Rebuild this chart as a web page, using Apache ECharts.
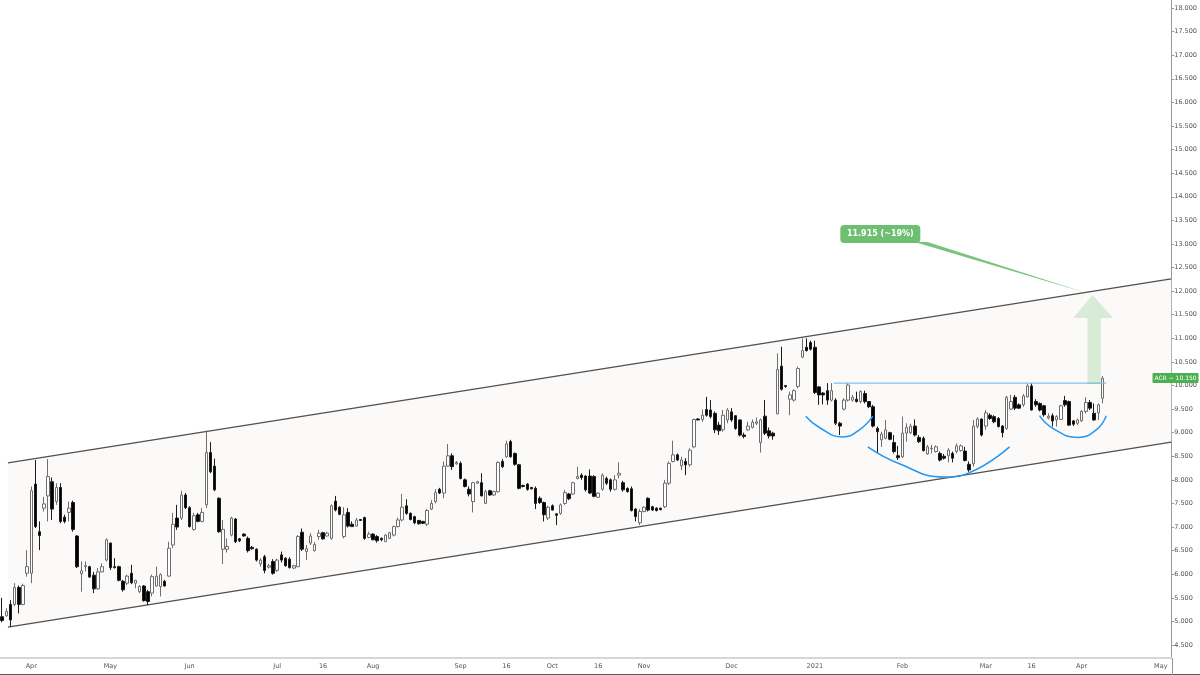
<!DOCTYPE html>
<html>
<head>
<meta charset="utf-8">
<title>ACR</title>
<script src="https://cdn.jsdelivr.net/npm/echarts@6/dist/echarts.min.js"></script>
<style>
  html, body { margin: 0; padding: 0; background: #fff; }
  #chart { width: 1200px; height: 675px; }
</style>
</head>
<body>
<div id="chart"></div>
<script>
// daily candles (one value per bar)
var opens = [
  5.10,5.12,5.36,5.36,5.72,5.36,6.02,6.02,7.91,6.90, 7.40,7.66,7.96,7.54,7.84,7.21,7.31,7.52,6.81,6.01,
  6.16,6.16,5.98,5.69,6.05,6.30,6.66,6.16,6.16,5.85, 5.81,6.02,5.81,5.63,5.75,5.63,5.60,5.75,5.74,5.85,
  5.96,6.62,7.19,7.19,7.68,7.41,6.95,7.26,7.12,7.47, 8.58,8.29,7.61,6.53,6.53,6.83,7.17,6.75,6.85,6.76,
  6.57,6.53,6.22,6.37,6.15,6.27,6.08,6.41,6.34,6.32, 6.13,6.16,6.89,6.48,6.66,6.50,6.80,6.88,6.81,6.76,
  7.55,7.42,6.80,7.31,7.06,7.02,7.16,7.20,6.78,6.85, 6.80,6.76,6.69,6.76,6.83,7.01,7.15,7.45,7.29,7.22,
  7.14,7.12,7.06,7.38,7.54,7.80,7.72,8.29,8.51,8.34, 8.35,8.00,7.80,7.54,7.93,7.94,7.50,7.77,7.68,7.75,
  8.39,8.49,8.81,8.56,8.32,7.88,7.91,7.84,7.82,7.61, 7.52,7.19,7.45,7.28,7.29,7.50,7.70,7.70,8.03,8.10,
  8.08,8.08,8.07,7.63,7.80,8.03,8.00,7.80,8.10,7.94, 7.82,7.81,7.38,7.09,7.33,7.61,7.43,7.40,7.40,7.43,
  7.93,8.39,8.53,8.30,8.39,8.32,8.70,9.29,9.28,9.49, 9.48,9.41,9.16,9.06,9.27,9.44,9.36,9.27,8.95,9.06,
  9.11,9.20,8.79,9.35,9.04,8.99,9.40,10.41,10.00,9.71, 9.69,9.98,10.60,10.81,10.91,10.81,9.97,9.84,9.89,9.69,
  9.69,9.20,9.50,9.69,9.69,9.71,9.66,9.83,9.66,9.55, 9.09,8.85,8.88,9.00,8.79,8.51,8.49,8.99,9.00,9.14,
  8.90,8.88,8.55,8.66,8.60,8.56,8.50,8.51,8.56,8.60, 8.62,8.61,8.33,8.34,9.13,9.29,9.14,9.37,9.34,9.30,
  9.14,9.09,9.50,9.75,9.59,9.59,9.76,9.99,9.66,9.62, 9.57,9.31,9.36,9.27,9.28,9.68,9.66,9.25,9.20,9.25,
  9.45,9.64,9.41,9.42,9.73
];
var highs = [
  5.50,5.28,5.45,5.81,5.76,5.80,6.51,7.86,8.42,7.12, 7.64,8.44,8.05,7.93,7.93,7.26,7.54,7.56,6.83,6.27,
  6.27,6.18,6.05,6.13,6.23,6.76,6.67,6.34,6.18,5.88, 5.99,6.20,5.88,5.77,5.77,5.67,5.99,6.16,6.02,5.88,
  6.69,7.30,7.47,7.77,7.72,7.44,7.30,7.30,7.40,9.04, 8.80,8.45,7.63,7.15,6.76,7.22,7.19,6.77,6.87,6.80,
  6.60,6.55,6.34,6.41,6.22,6.32,6.33,6.48,6.36,6.36, 6.20,6.83,6.97,6.62,6.87,6.68,6.94,6.90,6.90,7.48,
  7.66,7.44,7.42,7.40,7.12,7.19,7.17,7.22,6.90,6.87, 6.83,6.78,6.85,6.90,7.03,7.20,7.70,7.59,7.31,7.24,
  7.15,7.13,7.38,7.57,7.80,7.83,8.39,8.76,8.56,8.40, 8.39,8.03,7.86,7.96,7.98,8.14,7.79,7.79,7.77,8.39,
  8.44,8.83,8.85,8.58,8.34,7.90,7.93,7.85,7.86,7.65, 7.54,7.45,7.48,7.29,7.50,7.79,7.72,7.96,8.28,8.14,
  8.10,8.22,8.10,7.73,8.14,8.07,8.03,8.10,8.37,7.98, 7.84,7.86,7.40,7.38,7.44,7.63,7.45,7.42,7.41,8.00,
  8.39,8.83,8.56,8.49,8.46,8.67,9.30,9.31,9.49,9.76, 9.69,9.45,9.23,9.48,9.52,9.52,9.37,9.28,9.00,9.23,
  9.28,9.32,9.30,9.69,9.11,9.02,10.68,10.82,10.01,9.87, 9.92,10.40,11.00,11.00,10.95,10.95,9.99,9.86,10.05,10.05,
  9.73,9.23,9.73,10.05,9.80,9.87,9.90,9.89,9.67,9.59, 9.13,9.02,9.27,9.02,8.95,8.72,9.34,9.20,9.19,9.28,
  8.95,8.92,8.74,8.74,8.73,8.60,8.55,8.67,8.60,8.77, 8.75,8.70,8.39,9.27,9.33,9.30,9.48,9.41,9.37,9.33,
  9.16,9.78,9.80,9.80,9.62,9.82,10.03,10.05,9.71,9.64, 9.59,9.41,9.41,9.37,9.59,9.78,9.68,9.27,9.30,9.48,
  9.75,9.69,9.62,9.62,10.20
];
var lows = [
  4.98,5.10,4.89,5.32,5.17,5.34,5.95,5.81,6.98,6.51, 7.33,7.12,7.15,7.47,7.08,7.08,7.12,6.90,6.13,5.63,
  6.06,5.92,5.60,5.67,6.04,6.27,6.09,6.12,5.85,5.63, 5.77,5.79,5.70,5.60,5.42,5.35,5.53,5.74,5.53,5.74,
  5.95,6.55,6.94,7.15,7.38,6.99,6.92,7.10,7.10,7.40, 8.14,7.76,6.88,6.22,6.46,6.80,6.66,6.68,6.80,6.46,
  6.52,6.27,6.16,6.02,6.12,5.99,6.05,6.25,6.16,6.12, 6.11,6.15,6.49,6.30,6.62,6.48,6.73,6.73,6.80,6.73,
  7.33,7.25,6.76,6.99,7.00,7.01,7.13,6.73,6.76,6.72, 6.67,6.70,6.68,6.75,6.80,6.99,7.12,7.26,7.14,7.06,
  7.05,7.06,7.02,7.36,7.50,7.70,7.61,8.28,8.21,8.32, 8.01,7.84,7.65,7.31,7.91,7.65,7.49,7.66,7.66,7.73,
  8.25,8.47,8.47,8.30,7.80,7.84,7.77,7.80,7.38,7.49, 7.12,7.15,7.35,7.04,7.26,7.47,7.57,7.68,8.01,8.00,
  7.75,7.70,7.63,7.62,7.77,7.89,7.75,7.77,8.03,7.75, 7.73,7.33,7.12,7.04,7.31,7.33,7.34,7.33,7.35,7.40,
  7.89,8.37,8.40,8.21,8.10,8.28,8.67,9.26,9.23,9.34, 9.30,8.99,8.95,9.02,9.20,9.23,9.06,8.92,8.88,9.04,
  9.09,9.16,8.58,8.95,8.88,8.85,9.39,9.89,9.95,9.37, 9.66,9.94,10.58,10.72,10.74,9.82,9.59,9.60,9.59,9.66,
  9.16,8.95,9.47,9.66,9.66,9.64,9.62,9.62,9.52,9.11, 8.56,8.70,8.86,8.84,8.56,8.42,8.46,8.81,8.97,8.92,
  8.78,8.60,8.53,8.56,8.58,8.39,8.43,8.37,8.37,8.56, 8.60,8.39,8.17,8.28,9.09,8.92,9.06,9.27,9.20,9.11,
  8.90,9.06,9.48,9.48,9.50,9.55,9.75,9.47,9.55,9.45, 9.34,9.28,9.13,9.13,9.27,9.55,9.14,9.14,9.16,9.23,
  9.41,9.48,9.25,9.27,9.62
];
var closes = [
  5.02,5.21,5.03,5.72,5.36,5.76,6.16,7.77,7.01,6.82, 7.49,8.07,7.38,7.84,7.12,7.12,7.40,6.95,6.16,6.07,
  6.18,5.94,5.69,6.05,6.16,6.73,6.14,6.14,5.87,5.67, 5.96,5.82,5.87,5.74,5.44,5.42,5.95,5.96,5.99,5.75,
  6.55,7.06,7.00,7.68,7.41,7.01,7.24,7.12,7.31,8.58, 8.17,7.79,6.90,6.95,6.59,7.19,6.69,6.71,6.81,6.50,
  6.54,6.30,6.30,6.08,6.18,6.02,6.30,6.30,6.18,6.14, 6.18,6.80,6.53,6.54,6.81,6.63,6.87,6.75,6.87,7.45,
  7.36,7.27,7.26,7.02,7.01,7.15,7.14,6.76,6.85,6.73, 6.71,6.73,6.83,6.88,7.01,7.15,7.42,7.29,7.16,7.09,
  7.07,7.08,7.35,7.50,7.73,7.72,8.29,8.51,8.28,8.37, 8.03,7.86,7.70,7.94,7.96,7.66,7.75,7.68,7.75,8.37,
  8.28,8.76,8.49,8.33,7.82,7.86,7.80,7.81,7.50,7.52, 7.26,7.42,7.36,7.25,7.47,7.73,7.60,7.94,8.07,8.05,
  7.79,7.72,7.65,7.72,8.10,7.93,7.80,8.00,8.14,7.79, 7.75,7.35,7.22,7.33,7.42,7.36,7.36,7.35,7.37,7.93,
  8.35,8.53,8.42,8.42,8.32,8.63,9.28,9.27,9.37,9.37, 9.34,9.06,9.04,9.37,9.48,9.27,9.09,8.95,8.92,9.14,
  9.22,9.23,9.27,8.99,8.93,8.93,10.34,9.92,9.98,9.80, 9.89,10.36,10.74,10.74,10.77,9.85,9.80,9.80,9.69,9.89,
  9.20,9.14,9.69,10.01,9.75,9.66,9.87,9.66,9.55,9.14, 9.02,8.97,9.06,8.86,8.60,8.47,8.99,9.11,9.14,8.95,
  8.81,8.62,8.70,8.67,8.70,8.42,8.46,8.63,8.46,8.72, 8.72,8.41,8.21,9.14,9.29,8.95,9.42,9.30,9.23,9.13,
  9.00,9.75,9.66,9.52,9.52,9.78,9.99,9.48,9.59,9.48, 9.38,9.35,9.25,9.34,9.57,9.59,9.16,9.18,9.27,9.45,
  9.64,9.52,9.27,9.59,10.15
];

// empty bars to the right of the last candle
var futureBars = 16;

// bar index -> date label on the time axis
var tickLabels = {
  7: 'Apr', 26: 'May', 45: 'Jun', 66: 'Jul', 77: '16', 89: 'Aug', 110: 'Sep', 121: '16',
  132: 'Oct', 143: '16', 154: 'Nov', 175: 'Dec', 195: '2021', 216: 'Feb', 236: 'Mar',
  247: '16', 259: 'Apr', 278: 'May'
};
var yTicks = [4.5, 5, 5.5, 6, 6.5, 7, 7.5, 8, 8.5, 9, 9.5, 10, 10.5, 11, 11.5, 12,
  12.5, 13, 13.5, 14, 14.5, 15, 15.5, 16, 16.5, 17, 17.5, 18];

// drawings, as [bar index, price]
var channelTop = [[1.4, 8.36], [280.5, 12.26]];
var channelBottom = [[1.4, 4.88], [280.5, 8.80]];
var neckline = [[199.5, 10.05], [264.9, 10.05]];
var cupLeft = [[192.8, 9.35], [196.1, 9.11], [201.7, 8.91], [205.7, 9.06], [208.9, 9.35]];
var cupHead = [[207.7, 8.70], [215.3, 8.34], [226.1, 8.06], [232.5, 8.17], [241.7, 8.70]];
var cupRight = [[248.9, 9.36], [252.1, 9.09], [258.1, 8.90], [262.5, 9.06], [264.9, 9.36]];
var targetArrow = [[260.4, 10.03], [260.4, 11.43], [257.0, 11.43], [261.6, 11.92],
  [266.6, 11.43], [263.6, 11.43], [263.6, 10.03]];
var calloutPointer = [[218.9, 13.04], [222.0, 13.04], [259.8, 11.97]];
var calloutAt = [210.7, 13.21];
var calloutText = '11.915 (~19%)';
var tickerName = 'ACR';

var FONT = 'DejaVu Sans';
var nBars = opens.length + futureBars;

var categories = [];
for (var i = 0; i < nBars; i++) categories.push(String(i));

var candles = [];
for (var j = 0; j < opens.length; j++) {
  candles.push([opens[j], closes[j], lows[j], highs[j]]);
}

var isTick = function (index) {
  return tickLabels.hasOwnProperty(index);
};

// custom polygon drawn in data coordinates
var polygonSeries = function (points, fill, z) {
  return {
    type: 'custom',
    xAxisIndex: 1,
    yAxisIndex: 0,
    z: z,
    silent: true,
    data: [points[0]],
    renderItem: function (params, api) {
      return {
        type: 'polygon',
        shape: { points: points.map(function (p) { return api.coord(p); }) },
        style: { fill: fill }
      };
    }
  };
};

var lineSeries = function (points, color, width, smooth, z) {
  return {
    type: 'line',
    xAxisIndex: 1,
    yAxisIndex: 0,
    data: points,
    smooth: smooth,
    symbol: 'none',
    silent: true,
    z: z,
    lineStyle: { color: color, width: width }
  };
};

var chart = echarts.init(document.getElementById('chart'));

chart.setOption({
  animation: false,
  backgroundColor: '#ffffff',
  grid: { left: 0, right: 28, top: 0, bottom: 17 },
  xAxis: [{
    type: 'category',
    data: categories,
    boundaryGap: true,
    axisLine: { onZero: false, lineStyle: { color: '#d6d6d6', width: 2 } },
    axisTick: {
      alignWithLabel: true,
      interval: isTick,
      length: 3,
      lineStyle: { color: '#9a9a9a' }
    },
    axisLabel: {
      interval: isTick,
      formatter: function (v, idx) { return tickLabels[idx] || ''; },
      color: '#555',
      fontFamily: FONT,
      fontSize: 6.5,
      margin: 5
    },
    splitLine: { show: false }
  }, {
    type: 'value',
    min: -0.5,
    max: nBars - 0.5,
    show: false
  }],
  yAxis: {
    type: 'value',
    position: 'right',
    min: 4.2245,
    max: 18.17,
    axisLine: { show: true, onZero: false, lineStyle: { color: '#9a9a9a' } },
    axisTick: { show: true, length: 3, customValues: yTicks, lineStyle: { color: '#9a9a9a' } },
    axisLabel: {
      customValues: yTicks,
      formatter: function (v) { return v.toFixed(3); },
      color: '#555',
      fontFamily: FONT,
      fontSize: 6.5,
      margin: 3
    },
    splitLine: { show: false }
  },
  series: [
    polygonSeries([channelTop[0], channelTop[1], channelBottom[1], channelBottom[0]], '#fcfaf8', 1),
    lineSeries(channelTop, '#505050', 1.3, false, 2),
    lineSeries(channelBottom, '#505050', 1.3, false, 2),
    {
      type: 'candlestick',
      xAxisIndex: 0,
      yAxisIndex: 0,
      data: candles,
      barWidth: 3,
      z: 3,
      itemStyle: {
        color: '#ffffff',
        color0: '#000000',
        borderColor: '#6e6e6e',
        borderColor0: '#1c1c1c',
        borderWidth: 1
      }
    },
    lineSeries(neckline, '#7fbdf2', 1.2, false, 4),
    lineSeries(cupLeft, '#2196f3', 1.5, true, 4),
    lineSeries(cupHead, '#2196f3', 1.5, true, 4),
    lineSeries(cupRight, '#2196f3', 1.5, true, 4),
    polygonSeries(targetArrow, 'rgba(76,175,80,0.2)', 5),
    polygonSeries(calloutPointer, 'rgba(76,175,80,0.75)', 6),
    {
      type: 'custom',
      xAxisIndex: 1,
      yAxisIndex: 0,
      z: 7,
      silent: true,
      data: [calloutAt],
      renderItem: function (params, api) {
        var c = api.coord([api.value(0), api.value(1)]);
        return {
          type: 'group',
          children: [{
            type: 'rect',
            shape: { x: c[0] - 40, y: c[1] - 9, width: 80, height: 18, r: 4 },
            style: { fill: '#6fbf72' }
          }, {
            type: 'text',
            style: {
              x: c[0], y: c[1], text: calloutText,
              fill: '#ffffff', font: 'bold 8px ' + FONT,
              align: 'center', verticalAlign: 'middle'
            }
          }]
        };
      }
    }
  ]
});

// last price tag on the price scale
var lastClose = closes[closes.length - 1];
var tagY = chart.convertToPixel({ yAxisIndex: 0 }, lastClose);
chart.setOption({
  graphic: [{
    type: 'rect',
    shape: { x: 1152.5, y: Math.round(tagY) - 5, width: 46, height: 10, r: 1 },
    style: { fill: '#4caf50' },
    z: 100
  }, {
    type: 'text',
    style: {
      x: 1175.5, y: Math.round(tagY), text: tickerName + ' \u2212 ' + lastClose.toFixed(3),
      fill: '#ffffff', font: '6px ' + FONT, align: 'center', verticalAlign: 'middle'
    },
    z: 101
  }, {
    type: 'line',
    shape: { x1: 0, y1: 674.5, x2: 1200, y2: 674.5 },
    style: { stroke: '#5a5a5a', lineWidth: 1 },
    z: 100
  }, {
    type: 'line',
    shape: { x1: 1172.5, y1: 658, x2: 1172.5, y2: 675 },
    style: { stroke: '#9a9a9a', lineWidth: 1 },
    z: 100
  }]
});
</script>
</body>
</html>
